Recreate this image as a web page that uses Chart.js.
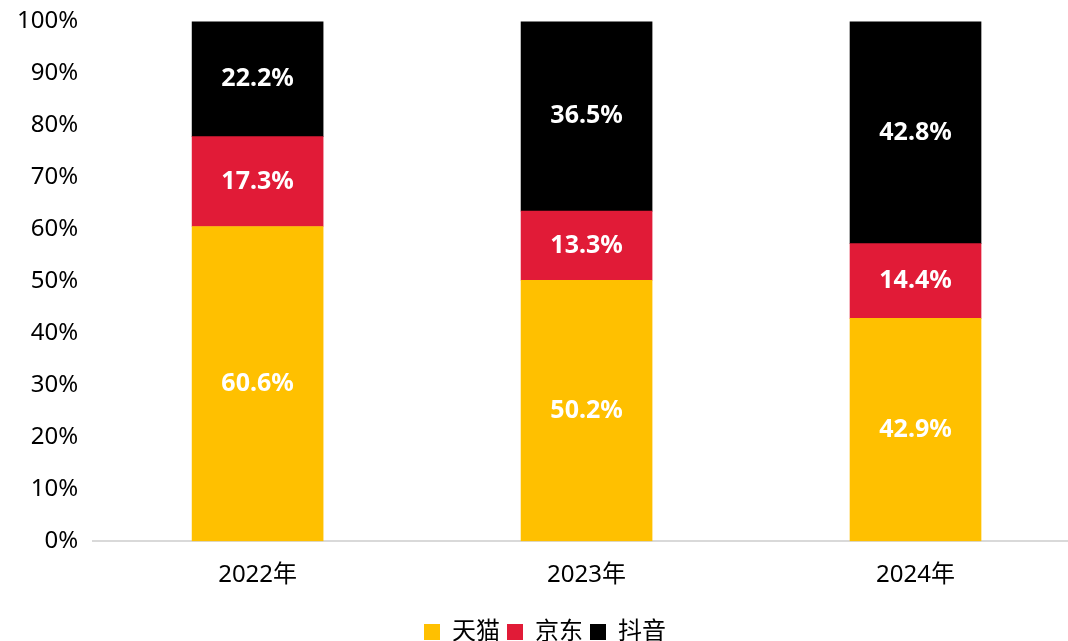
<!DOCTYPE html>
<html>
<head>
<meta charset="utf-8">
<script src="https://cdn.jsdelivr.net/npm/chart.js@4"></script>
<style>
  html, body { margin: 0; padding: 0; background: #fff; overflow: hidden; }
  #wrap { width: 1100px; height: 654px; }
</style>
</head>
<body>
<div id="wrap"><canvas id="chart"></canvas></div>
<script>
// Chart data
const years = ['2022年', '2023年', '2024年'];
const tmall = [60.6, 50.2, 42.9];
const jd = [17.3, 13.3, 14.4];
const douyin = [22.2, 36.5, 42.8];
const yTicks = [0, 10, 20, 30, 40, 50, 60, 70, 80, 90, 100];

const FONT = '"Noto Sans", "Noto Sans CJK SC", sans-serif';

// 100% stacked: scale each column to its total
function share(series, i) {
  const total = tmall[i] + jd[i] + douyin[i];
  return series[i] / total * 100;
}

function makeSet(label, series, color) {
  return {
    label: label,
    data: series.map((v, i) => share(series, i)),
    raw: series,
    backgroundColor: color,
    borderWidth: 0,
    barThickness: 131
  };
}

// Write the value labels in the middle of each segment
const segmentLabels = {
  id: 'segmentLabels',
  afterDatasetsDraw(chart) {
    const ctx = chart.ctx;
    ctx.save();
    ctx.fillStyle = '#fff';
    ctx.font = 'bold 25px ' + FONT;
    ctx.textAlign = 'center';
    ctx.textBaseline = 'middle';
    chart.data.datasets.forEach((ds, di) => {
      chart.getDatasetMeta(di).data.forEach((bar, i) => {
        const mid = (bar.y + bar.base) / 2;
        ctx.fillText(ds.raw[i].toFixed(1) + '%', bar.x, mid);
      });
    });
    ctx.restore();
  }
};

new Chart(document.getElementById('chart'), {
  type: 'bar',
  data: {
    labels: years,
    datasets: [
      makeSet('天猫', tmall, '#FFC000'),
      makeSet('京东', jd, '#E11B37'),
      makeSet('抖音', douyin, '#000000')
    ]
  },
  options: {
    responsive: true,
    maintainAspectRatio: false,
    animation: false,
    layout: { padding: { left: 10, right: 20, top: 10, bottom: 0 } },
    plugins: {
      legend: {
        position: 'bottom',
        labels: {
          boxWidth: 16,
          boxHeight: 16,
          padding: 7,
          color: '#000',
          font: { family: FONT, size: 24 }
        }
      },
      tooltip: { enabled: false }
    },
    scales: {
      x: {
        stacked: true,
        grid: { display: false },
        border: { color: '#d9d9d9', width: 2 },
        ticks: { color: '#000', padding: 12, font: { family: FONT, size: 24 } },
        // extra room between the year labels and the legend
        afterFit(scale) { scale.height += 11; }
      },
      y: {
        stacked: true,
        min: 0,
        max: 100,
        afterBuildTicks(axis) { axis.ticks = yTicks.map(v => ({ value: v })); },
        grid: { display: false },
        border: { display: false },
        ticks: {
          color: '#000',
          padding: 7,
          font: { family: FONT, size: 24 },
          callback: v => v + '%'
        }
      }
    }
  },
  plugins: [segmentLabels]
});
</script>
</body>
</html>
